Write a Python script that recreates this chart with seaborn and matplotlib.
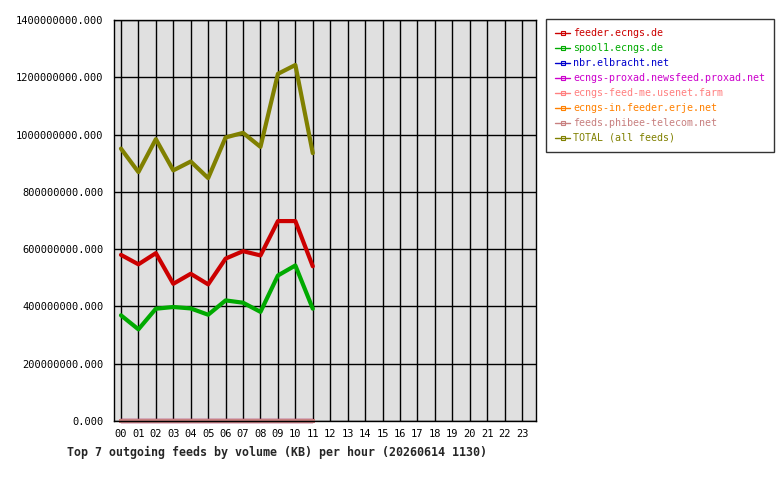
import pandas as pd
import matplotlib
matplotlib.use("Agg")
import matplotlib.pyplot as plt
from matplotlib.lines import Line2D
from matplotlib.ticker import FuncFormatter
import seaborn as sns

# hourly outgoing volume (KB), hours 00..11 have data
hours = list(range(12))
hour_labels = [f"{h:02d}" for h in range(24)]

feeder = [580e6, 547e6, 586e6, 479e6, 514e6, 477e6, 567e6, 593e6, 578e6, 698e6, 698e6, 540e6]
spool1 = [369e6, 320e6, 392e6, 398e6, 393e6, 371e6, 421e6, 413e6, 381e6, 508e6, 543e6, 392e6]
nbr = [0.0] * 12
proxad = [0.0] * 12
feedme = [0.0] * 12
erje = [0.0] * 12
phibee = [0.0] * 12
total = [951e6, 869e6, 984e6, 875e6, 906e6, 848e6, 990e6, 1006e6, 957e6, 1212e6, 1243e6, 935e6]

feeds = ["feeder.ecngs.de", "spool1.ecngs.de", "nbr.elbracht.net",
         "ecngs-proxad.newsfeed.proxad.net", "ecngs-feed-me.usenet.farm",
         "ecngs-in.feeder.erje.net", "feeds.phibee-telecom.net", "TOTAL (all feeds)"]
series = [feeder, spool1, nbr, proxad, feedme, erje, phibee, total]
colors = ["#cc0000", "#00aa00", "#0000cc", "#cc00cc", "#ff8080", "#ff8000", "#c88080", "#808000"]

rows = []
for name, vals in zip(feeds, series):
    for h, v in zip(hours, vals):
        rows.append({"hour": h, "kb": v, "feed": name})
df = pd.DataFrame(rows)

sns.set_style("white")
plt.rcParams['font.family'] = ['DejaVu Sans Mono']

fig = plt.figure(figsize=(7.8, 4.8), dpi=100)
ax = fig.add_axes([114 / 780, 59 / 480, 422 / 780, 401 / 480])
ax.set_facecolor("#e0e0e0")

sns.lineplot(data=df, x="hour", y="kb", hue="feed", hue_order=feeds,
             palette=dict(zip(feeds, colors)), linewidth=3, legend=False, ax=ax)
for ln in ax.get_lines():
    ln.set_clip_on(False)

ax.set_xlim(-0.4, 23.8)
ax.set_ylim(0, 1.4e9)
ax.set_xticks(range(24))
ax.set_xticklabels(hour_labels)
ax.set_yticks([i * 200e6 for i in range(8)])
ax.yaxis.set_major_formatter(FuncFormatter(lambda v, p: f"{v:.3f}"))
ax.tick_params(axis="both", labelsize=7.5, length=4, width=1, colors="black", direction="out")
ax.tick_params(axis="x", pad=2)
ax.grid(True, color="black", linewidth=1)
ax.set_axisbelow(True)
for s in ax.spines.values():
    s.set_color("black")
    s.set_linewidth(1)
ax.set_xlabel("")
ax.set_ylabel("")

fig.text(67 / 780, 1 - 452 / 480, "Top 7 outgoing feeds by volume (KB) per hour (20260614 1130)",
         fontsize=8.4, fontweight="bold", va="center", ha="left")

handles = [Line2D([], [], color=c, linewidth=1, marker="s", markersize=3,
                  markerfacecolor="none", markeredgewidth=0.8) for c in colors]
leg = fig.legend(handles, feeds, loc="upper left", bbox_to_anchor=(546 / 780, 1 - 19 / 480),
                 frameon=True, fancybox=False, edgecolor="black", fontsize=7.2,
                 handlelength=1.5, handletextpad=0.3, labelspacing=0.5,
                 borderpad=0.9, borderaxespad=0, labelcolor="linecolor")
leg.get_frame().set_linewidth(1)

fig.savefig("out.png", dpi=100)
